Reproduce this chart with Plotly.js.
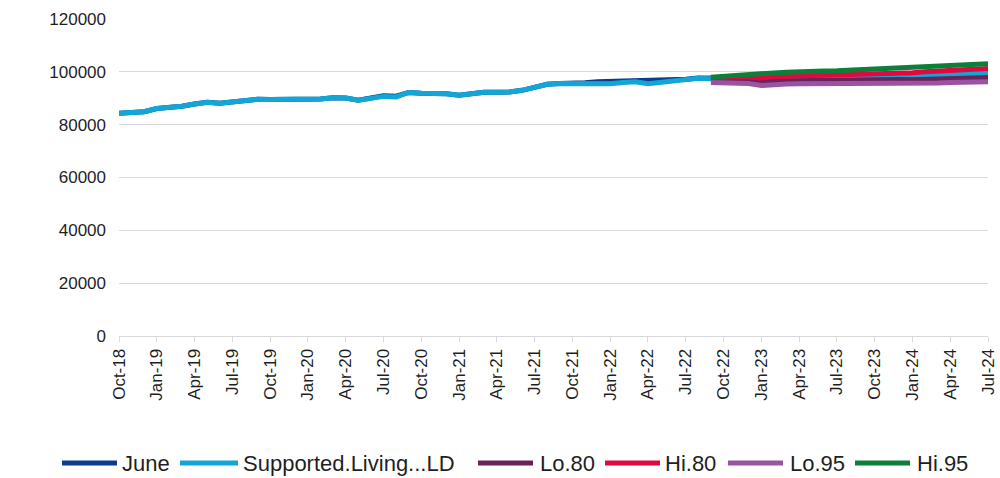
<!DOCTYPE html>
<html>
<head>
<meta charset="utf-8">
<script src="https://cdn.plot.ly/plotly-3.0.1.min.js"></script>
<style>
  html, body { margin: 0; padding: 0; background: #ffffff; }
  #chart { width: 1000px; height: 478px; }
</style>
</head>
<body>
<div id="chart"></div>
<script>
// ---- Data ----
const months = [
  'Oct-18','Nov-18','Dec-18',
  'Jan-19','Feb-19','Mar-19','Apr-19','May-19','Jun-19','Jul-19','Aug-19','Sep-19','Oct-19','Nov-19','Dec-19',
  'Jan-20','Feb-20','Mar-20','Apr-20','May-20','Jun-20','Jul-20','Aug-20','Sep-20','Oct-20','Nov-20','Dec-20',
  'Jan-21','Feb-21','Mar-21','Apr-21','May-21','Jun-21','Jul-21','Aug-21','Sep-21','Oct-21','Nov-21','Dec-21',
  'Jan-22','Feb-22','Mar-22','Apr-22','May-22','Jun-22','Jul-22','Aug-22','Sep-22','Oct-22','Nov-22','Dec-22',
  'Jan-23','Feb-23','Mar-23','Apr-23','May-23','Jun-23','Jul-23','Aug-23','Sep-23','Oct-23','Nov-23','Dec-23',
  'Jan-24','Feb-24','Mar-24','Apr-24','May-24','Jun-24','Jul-24'
];

const tickLabels = ['Oct-18','Jan-19','Apr-19','Jul-19','Oct-19','Jan-20','Apr-20','Jul-20','Oct-20','Jan-21','Apr-21','Jul-21',
  'Oct-21','Jan-22','Apr-22','Jul-22','Oct-22','Jan-23','Apr-23','Jul-23','Oct-23','Jan-24','Apr-24','Jul-24'];

const seriesNames = ['June', 'Supported.Living...LD', 'Lo.80', 'Hi.80', 'Lo.95', 'Hi.95'];

// Actuals Oct-18 .. Sep-22 (48 months)
const actual = [
  84300, 84700, 84900,
  86100, 86500, 87000, 87800, 88500, 88100, 88500, 89000, 89600, 89500, 89500, 89500,
  89500, 89700, 90200, 90100, 89300, 90100, 90700, 90500, 92200, 91900, 91800, 91700,
  91100, 91700, 92300, 92300, 92400, 93000, 94300, 95300, 95600, 95600, 95700, 95900,
  95500, 96000, 96200, 95500, 96000, 96700, 97000, 97600, 97400
];

// "June" series Oct-18 .. Sep-22 (48 months)
const june = [
  84300, 84700, 84900,
  86100, 86500, 87000, 87800, 88500, 88100, 88500, 89000, 89600, 89500, 89500, 89500,
  89500, 89700, 90200, 90100, 89300, 90100, 90900, 90800, 92200, 91900, 91800, 91700,
  91100, 91700, 92300, 92300, 92400, 93000, 94300, 95300, 95600, 95600, 95900, 96200,
  96300, 96500, 96800, 96900, 96800, 96900, 97200, 97700, 97700
];

// Forecast Sep-22 .. Jul-24 (23 months)
const fcMean = [97300, 97600, 97700, 97600, 97200, 97600, 97800, 97900, 97900, 98000, 98000, 98000,
  98100, 98400, 98600, 98600, 98500, 98700, 98800, 99300, 99500, 99500, 99600];
const lo80 = [96800, 96900, 96800, 96600, 96200, 96500, 96600, 96600, 96600, 96700, 96700, 96700,
  96800, 96900, 97000, 97100, 97000, 97100, 97200, 97500, 97700, 97800, 97900];
const hi80 = [97600, 97900, 98100, 98000, 97700, 98100, 98400, 98600, 98600, 98700, 98800, 98900,
  99000, 99300, 99500, 99600, 99700, 100000, 100300, 100600, 100800, 100900, 101300];
const lo95 = [96000, 95900, 95800, 95600, 94800, 95200, 95400, 95500, 95500, 95500, 95500, 95500,
  95600, 95700, 95700, 95700, 95600, 95700, 95800, 96000, 96100, 96100, 96200];
const hi95 = [98000, 98400, 98700, 99000, 99300, 99600, 99800, 100100, 100200, 100300, 100400, 100600,
  100900, 101300, 101500, 101600, 101700, 101900, 102100, 102400, 102500, 102600, 103100];

// ---- Build traces ----
const fcStart = actual.length - 1; // Sep-22 index
const fcMonths = months.slice(fcStart);
const supported = actual.concat(fcMean.slice(1));
const juneFull = june.concat(fcMean.slice(1));

const colors = ['#0d3c8e', '#12a6d6', '#6a2359', '#e2073c', '#9a52a2', '#0c7f39'];
const lw = 5;

const traces = [
  { x: months, y: juneFull, name: seriesNames[0] },
  { x: months, y: supported, name: seriesNames[1] },
  { x: fcMonths, y: lo80, name: seriesNames[2] },
  { x: fcMonths, y: hi80, name: seriesNames[3] },
  { x: fcMonths, y: lo95, name: seriesNames[4] },
  { x: fcMonths, y: hi95, name: seriesNames[5] }
].map((t, i) => Object.assign(t, {
  type: 'scatter', mode: 'lines',
  line: { color: colors[i], width: lw },
  hoverinfo: 'x+y+name'
}));

// ---- Custom legend (shapes + annotations) ----
const plotL = 119, plotR = 988, plotT = 19, plotB = 336;
const px2x = p => (p - plotL) / (plotR - plotL);
const py2y = p => (plotB - p) / (plotB - plotT);
const legendY = 463;
const legLines = [[62, 117], [180, 238], [478, 533], [605, 660], [728, 783], [855, 910]];
const legText = [120, 241, 538, 663, 788, 915];
const fontFam = 'Liberation Sans, Arial, sans-serif';
const textColor = '#1f1f1f';

const shapes = legLines.map((seg, i) => ({
  type: 'line', xref: 'paper', yref: 'paper',
  x0: px2x(seg[0]), x1: px2x(seg[1]), y0: py2y(legendY), y1: py2y(legendY),
  line: { color: colors[i], width: 5 }
}));
const annotations = seriesNames.map((n, i) => ({
  text: n, xref: 'paper', yref: 'paper',
  x: px2x(legText[i]), y: py2y(legendY),
  xanchor: 'left', yanchor: 'middle', showarrow: false,
  font: { family: fontFam, size: 22, color: textColor }
}));

const layout = {
  width: 1000, height: 478,
  margin: { l: plotL, r: 1000 - plotR, t: plotT, b: 478 - plotB, pad: 0 },
  paper_bgcolor: '#ffffff', plot_bgcolor: '#ffffff',
  font: { family: fontFam, size: 17, color: textColor },
  showlegend: false,
  xaxis: {
    type: 'category',
    categoryorder: 'array', categoryarray: months,
    range: [0, months.length - 1],
    tickmode: 'array', tickvals: tickLabels, ticktext: tickLabels,
    tickangle: -90,
    ticks: 'outside', ticklen: 5, tickcolor: '#d9d9d9', tickwidth: 1,
    showgrid: false, zeroline: false,
    showline: true, linecolor: '#d9d9d9', linewidth: 1,
    tickfont: { family: fontFam, size: 17, color: textColor },
    fixedrange: true
  },
  yaxis: {
    range: [0, 120000], dtick: 20000, tick0: 0,
    tickformat: 'd',
    showgrid: true, gridcolor: '#d9d9d9', gridwidth: 1,
    zeroline: false, showline: false, ticks: '',
    ticklabelstandoff: 12,
    tickfont: { family: fontFam, size: 17, color: textColor },
    fixedrange: true
  },
  shapes: shapes,
  annotations: annotations
};

Plotly.newPlot('chart', traces, layout, { displayModeBar: false, staticPlot: true });
</script>
</body>
</html>
